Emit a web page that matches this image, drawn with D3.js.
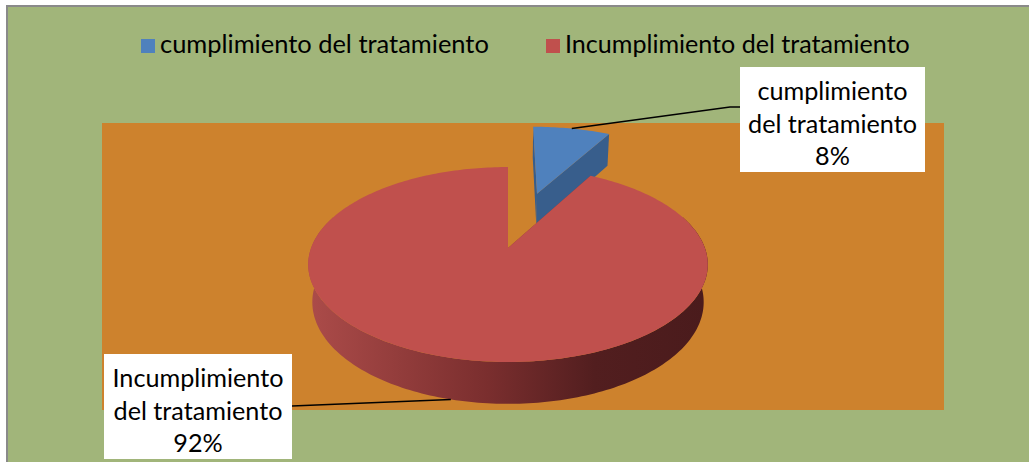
<!DOCTYPE html>
<html>
<head>
<meta charset="utf-8">
<script src="https://cdn.jsdelivr.net/npm/d3@7"></script>
<style>
  body { margin: 0; background: #fff; }
  text { font-family: Lato, "Open Sans", sans-serif; fill: #000; }
</style>
</head>
<body>
<div id="chart"></div>
<script>
var width = 1029, height = 462;

// data
var categories = ["cumplimiento del tratamiento", "Incumplimiento del tratamiento"];
var values = [8, 92];
var percentLabels = ["8%", "92%"];

var topColors = ["#4f81bd", "#c0504d"];
var faceColors = ["#385e8c", "#8c3836"];
var explode = [0.656, 0];

var svg = d3.select("#chart")
  .append("svg")
  .attr("width", width)
  .attr("height", height);

// chart area + plot area
svg.append("rect")
  .attr("x", 7).attr("y", 6)
  .attr("width", width).attr("height", height)
  .attr("fill", "#a1b57a")
  .attr("stroke", "#8a8a8a")
  .attr("stroke-width", 2);

svg.append("rect")
  .attr("x", 102).attr("y", 123)
  .attr("width", 842).attr("height", 287)
  .attr("fill", "#cd822d");

// simple perspective projection of the pie (radius 1, top face at y=0)
var cx = 508, cy = 248;
var camD = 5.18, focal = 1020, thick = 0.22;
var sinT = 0.4807, cosT = 0.877;

function project(X, Y, Z) {
  var yc = Y * cosT + Z * sinT;
  var zc = camD + Z * cosT - Y * sinT;
  return [cx + focal * X / zc, cy - focal * yc / zc];
}

var pie = d3.pie().sort(null).value(function(d) { return d; });
var arcs = pie(values);
var line = d3.line();

function arcPoints(ox, oz, a0, a1, Y) {
  var n = Math.max(2, Math.ceil((a1 - a0) / 0.02));
  return d3.range(n + 1).map(function(i) {
    var a = a0 + (a1 - a0) * i / n;
    return project(ox + Math.sin(a), Y, oz + Math.cos(a));
  });
}

// side gradient
var defs = svg.append("defs");
var grad = defs.append("linearGradient")
  .attr("id", "wallGrad")
  .attr("gradientUnits", "userSpaceOnUse")
  .attr("x1", project(-1, 0, 0)[0]).attr("x2", project(1, 0, 0)[0])
  .attr("y1", 0).attr("y2", 0);
[[0, "#ab4b49"], [0.45, "#7a2e2e"], [0.72, "#521e1f"], [1, "#4a1b1c"]].forEach(function(s) {
  grad.append("stop").attr("offset", s[0]).attr("stop-color", s[1]);
});

var pieG = svg.append("g");

// blue (far) first, then red
[0, 1].forEach(function(i) {
  var d = arcs[i];
  var mid = (d.startAngle + d.endAngle) / 2;
  var ox = explode[i] * Math.sin(mid), oz = explode[i] * Math.cos(mid);
  var g = pieG.append("g");

  // outer wall, only the part facing the viewer
  var w0 = Math.max(d.startAngle, Math.PI / 2 - 0.35);
  var w1 = Math.min(d.endAngle, 3 * Math.PI / 2 + 0.35);
  if (w1 > w0) {
    var topArc = arcPoints(ox, oz, w0, w1, 0);
    var botArc = arcPoints(ox, oz, w0, w1, -thick).reverse();
    g.append("path")
      .attr("d", line(topArc.concat(botArc)) + "Z")
      .attr("fill", i == 1 ? "url(#wallGrad)" : faceColors[i]);
  }

  // radial faces
  [d.startAngle, d.endAngle].forEach(function(a) {
    var p = [
      project(ox, 0, oz),
      project(ox + Math.sin(a), 0, oz + Math.cos(a)),
      project(ox + Math.sin(a), -thick, oz + Math.cos(a)),
      project(ox, -thick, oz)
    ];
    g.append("path")
      .attr("d", line(p) + "Z")
      .attr("fill", faceColors[i]);
  });

  // top face
  var topPts = [project(ox, 0, oz)].concat(arcPoints(ox, oz, d.startAngle, d.endAngle, 0));
  g.append("path")
    .attr("d", line(topPts) + "Z")
    .attr("fill", topColors[i]);
});

// fit a text to a target width
function fitText(sel, target) {
  sel.style("font-size", "20px");
  var w = sel.node().getComputedTextLength();
  sel.style("font-size", (20 * target / w) + "px");
}

// legend
var legendX = [141, 546];
var legendW = [329, 345];
categories.forEach(function(c, i) {
  svg.append("rect")
    .attr("x", legendX[i]).attr("y", 39)
    .attr("width", 14).attr("height", 14)
    .attr("fill", topColors[i]);
  var t = svg.append("text")
    .attr("x", legendX[i] + 19).attr("y", 53)
    .text(c);
  fitText(t, legendW[i]);
});

// data labels
var boxes = [
  { x: 740, y: 67, w: 185, h: 105, lines: ["cumplimiento", "del tratamiento", percentLabels[0]], anchor: [740, 107] },
  { x: 104, y: 354, w: 188, h: 105, lines: ["Incumplimiento", "del tratamiento", percentLabels[1]], anchor: [292, 406] }
];

// leader lines
var b0 = arcs[0], m0 = (b0.startAngle + b0.endAngle) / 2;
var e0x = explode[0] * Math.sin(m0), e0z = explode[0] * Math.cos(m0);
var p0 = project(e0x + Math.sin(m0), 0, e0z + Math.cos(m0));
svg.append("path")
  .attr("d", line([p0, [730, 107], boxes[0].anchor]))
  .attr("fill", "none").attr("stroke", "#000").attr("stroke-width", 1.5);

var m1 = (arcs[1].startAngle + arcs[1].endAngle) / 2;
var p1 = project(Math.sin(m1), -thick, Math.cos(m1));
svg.append("path")
  .attr("d", line([p1, boxes[1].anchor]))
  .attr("fill", "none").attr("stroke", "#000").attr("stroke-width", 1.5);

// size from "del tratamiento" width
var probe = svg.append("text").text("del tratamiento");
fitText(probe, 169);
var labelSize = probe.style("font-size");
probe.remove();

boxes.forEach(function(b) {
  svg.append("rect")
    .attr("x", b.x).attr("y", b.y)
    .attr("width", b.w).attr("height", b.h)
    .attr("fill", "#fff");
  b.lines.forEach(function(l, j) {
    svg.append("text")
      .attr("x", b.x + b.w / 2)
      .attr("y", b.y + 23 + j * 32.5)
      .attr("text-anchor", "middle")
      .attr("dominant-baseline", "central")
      .style("font-size", labelSize)
      .text(l);
  });
});
</script>
</body>
</html>
